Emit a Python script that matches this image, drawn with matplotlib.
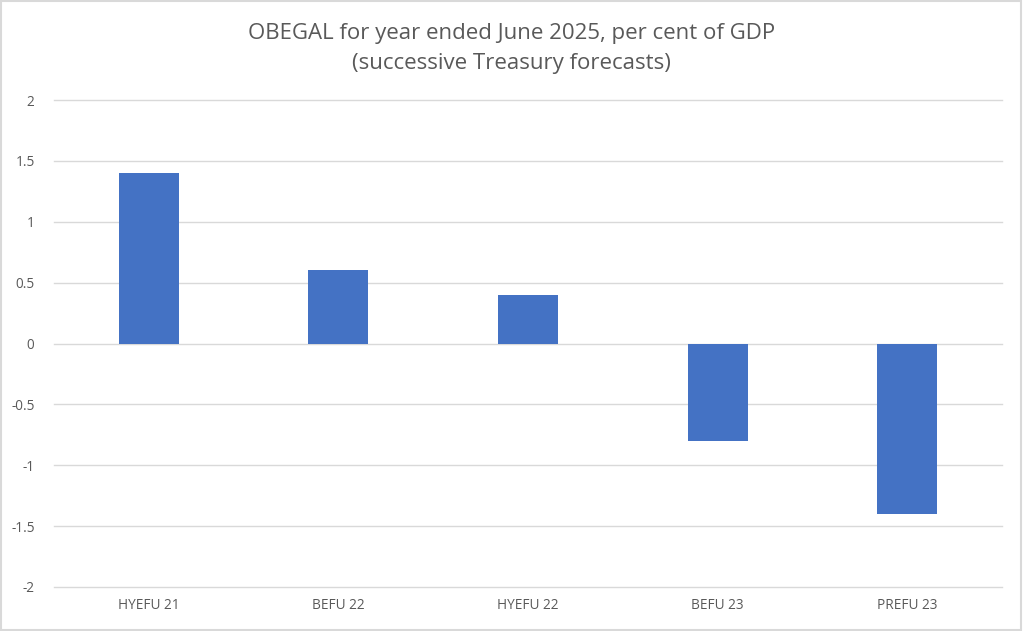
import numpy as np
import matplotlib.pyplot as plt
from matplotlib.patches import Rectangle

# forecasts of OBEGAL for June 2025 year
categories = ["HYEFU 21", "BEFU 22", "HYEFU 22", "BEFU 23", "PREFU 23"]
values = [1.4, 0.6, 0.4, -0.8, -1.4]
yticks = [-2, -1.5, -1, -0.5, 0, 0.5, 1, 1.5, 2]
ytick_labels = ["-2", "-1.5", "-1", "-0.5", "0", "0.5", "1", "1.5", "2"]

text_col = "#595959"
grid_col = "#d9d9d9"
bar_col = "#4472c4"

plt.rcParams['font.family'] = ['Open Sans', 'DejaVu Sans']

fig = plt.figure(figsize=(10.23, 6.31), dpi=100)
ax = fig.add_axes([54 / 1023, 1 - 587 / 631, 948 / 1023, 487 / 631])

x = np.arange(len(categories))
ax.bar(x, values, width=0.316, color=bar_col, zorder=3)

ax.set_xlim(-0.5, len(categories) - 0.5)
ax.set_ylim(-2, 2)
ax.set_yticks(yticks)
ax.set_yticklabels(ytick_labels)
ax.set_xticks(x)
ax.set_xticklabels(categories)

ax.grid(axis='y', color=grid_col, linewidth=1, zorder=0)
for gl in ax.get_ygridlines():
    gl.set_clip_on(False)
for s in ax.spines.values():
    s.set_visible(False)
ax.tick_params(axis='both', length=0, colors=text_col, labelsize=9.8)
ax.tick_params(axis='y', pad=14)
ax.tick_params(axis='x', pad=8)

fig.text(0.5, 1 - 34 / 631, "OBEGAL for year ended June 2025, per cent of GDP",
         ha='center', va='center', fontsize=16, color=text_col)
fig.text(0.5, 1 - 63 / 631, "(successive Treasury forecasts)",
         ha='center', va='center', fontsize=16, color=text_col)

# outer chart border
fig.patches.append(Rectangle((0.001, 0.001), 0.997, 0.997, transform=fig.transFigure,
                             fill=False, edgecolor=grid_col, linewidth=1.5))

fig.savefig("out.png", dpi=100)
